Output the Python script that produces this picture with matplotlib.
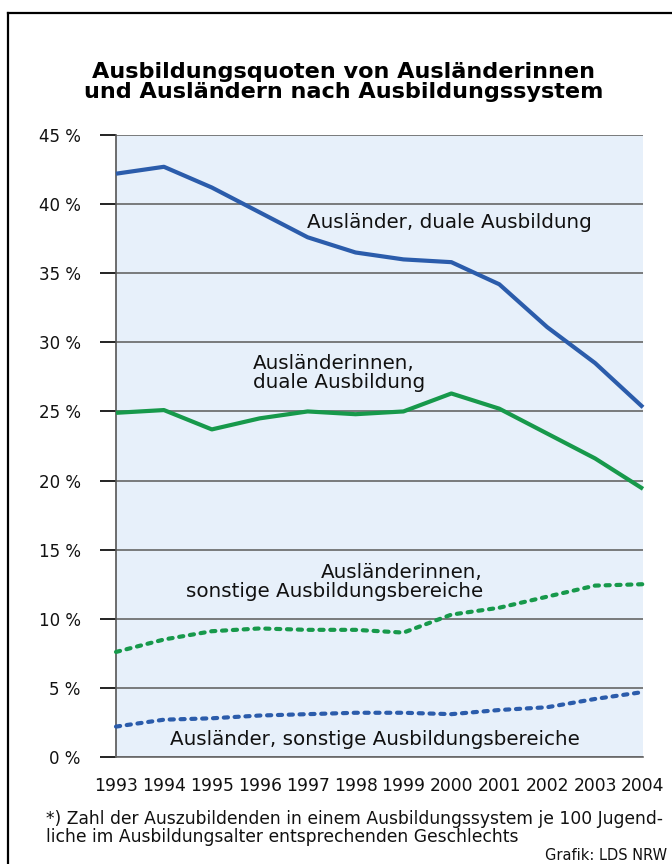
import matplotlib
matplotlib.use("Agg")
import matplotlib.pyplot as plt
from matplotlib.lines import Line2D

plt.rcParams['font.family'] = ['DejaVu Sans']

years = [1993, 1994, 1995, 1996, 1997, 1998, 1999, 2000, 2001, 2002, 2003, 2004]
m_dual = [42.2, 42.7, 41.2, 39.4, 37.6, 36.5, 36.0, 35.8, 34.2, 31.1, 28.5, 25.3]
f_dual = [24.9, 25.1, 23.7, 24.5, 25.0, 24.8, 25.0, 26.3, 25.2, 23.4, 21.6, 19.4]
f_other = [7.6, 8.5, 9.1, 9.3, 9.2, 9.2, 9.0, 10.3, 10.8, 11.6, 12.4, 12.5]
m_other = [2.2, 2.7, 2.8, 3.0, 3.1, 3.2, 3.2, 3.1, 3.4, 3.6, 4.2, 4.7]
yticks = [0, 5, 10, 15, 20, 25, 30, 35, 40, 45]

BLUE = '#2b5cab'
GREEN = '#17994b'
BG = '#e7f0fa'
TXT = '#111111'

fig = plt.figure(figsize=(6.72, 8.64), dpi=100)
W, H = 672, 864
ax = fig.add_axes([116 / W, 1 - 757 / H, (643 - 116) / W, (757 - 135) / H])
ax.set_facecolor(BG)

ax.set_xlim(years[0], years[-1])
ax.set_ylim(0, 45)
ax.set_yticks(yticks)
ax.set_yticklabels([f"{v} %" for v in yticks], fontsize=12)
ax.set_xticks([])
for v in yticks:
    ax.axhline(v, color='#666666', lw=1.2, zorder=1)
for s in ['top', 'right']:
    ax.spines[s].set_visible(False)
ax.spines['left'].set_color('#555555')
ax.spines['left'].set_linewidth(1.2)
ax.spines['bottom'].set_color('#666666')
ax.spines['bottom'].set_linewidth(1.2)
ax.tick_params(axis='y', length=11.5, width=1.4, color='#222222', pad=14, labelcolor=TXT)

ax.plot(years, m_dual, color=BLUE, lw=3, solid_capstyle='butt', zorder=3, clip_on=False)
ax.plot(years, f_dual, color=GREEN, lw=3, solid_capstyle='butt', zorder=3, clip_on=False)
ax.plot(years, f_other, color=GREEN, lw=3, dashes=(1.0, 1.6), dash_capstyle='round', zorder=3, clip_on=False)
ax.plot(years, m_other, color=BLUE, lw=3, dashes=(1.0, 1.6), dash_capstyle='round', zorder=3, clip_on=False)

for i, y in enumerate(years):
    fig.text((116 + i * (643 - 116) / 11) / W, 1 - 786 / H, str(y), ha='center', va='center',
             fontsize=12.3, color=TXT)

ax.text(1999.95, 38.7, "Ausländer, duale Ausbildung", fontsize=14.3, color=TXT, ha='center', va='center')
ax.text(1995.86, 27.8, "Ausländerinnen,\nduale Ausbildung", fontsize=14.3, color=TXT, ha='left', va='center',
        linespacing=1.0)
ax.text(2000.66, 12.66, "Ausländerinnen,\nsonstige Ausbildungsbereiche", fontsize=14.3, color=TXT,
        ha='right', va='center', multialignment='right', linespacing=1.0)
ax.text(1998.4, 1.23, "Ausländer, sonstige Ausbildungsbereiche", fontsize=14.3, color=TXT, ha='center', va='center')

fig.text(344 / W, 1 - 82 / H, "Ausbildungsquoten von Ausländerinnen\nund Ausländern nach Ausbildungssystem",
         ha='center', va='center', fontsize=16.1, fontweight='bold', linespacing=1.0, color='#000000')

fig.text(46 / W, 1 - 828 / H, "*) Zahl der Auszubildenden in einem Ausbildungssystem je 100 Jugend-\nliche im Ausbildungsalter entsprechenden Geschlechts",
         ha='left', va='center', fontsize=12.3, linespacing=1.0, color=TXT)
fig.text(667 / W, 1 - 855 / H, "Grafik: LDS NRW", ha='right', va='center', fontsize=10.5, color=TXT)

fig.add_artist(Line2D([8 / W, 8 / W], [0, 1 - 13 / H], transform=fig.transFigure, color='black', lw=1.6))
fig.add_artist(Line2D([8 / W, 1], [1 - 13 / H, 1 - 13 / H], transform=fig.transFigure, color='black', lw=1.6))

fig.savefig("out.png", dpi=100)
